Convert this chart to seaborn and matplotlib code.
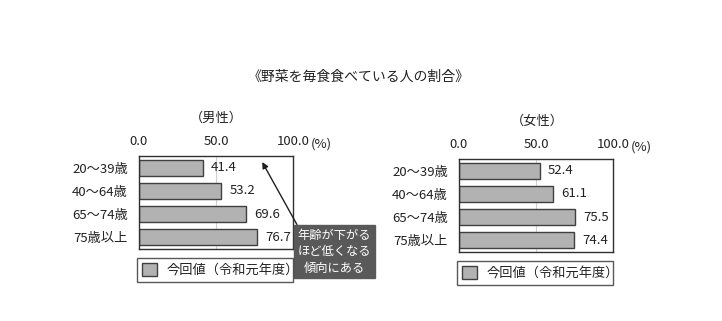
import matplotlib
matplotlib.use("Agg")
import matplotlib.pyplot as plt
import seaborn as sns
import pandas as pd
from matplotlib.patches import Patch

sns.set_theme(style="white")
plt.rcParams['font.family'] = ['Noto Sans CJK JP', 'DejaVu Sans']

categories = ["20～39歳", "40～64歳", "65～74歳", "75歳以上"]
male = [41.4, 53.2, 69.6, 76.7]
female = [52.4, 61.1, 75.5, 74.4]
ticks = [0, 50, 100]
tick_labels = ["0.0", "50.0", "100.0"]
title = "《野菜を毎食食べている人の割合》"
legend_label = "今回値（令和元年度）"
note = "年齢が下がる\nほど低くなる\n傾向にある"

W, H = 722, 321
fig = plt.figure(figsize=(W / 100, H / 100), dpi=100)

bar_color = "#b2b2b2"
edge_color = "#404040"
text_color = "#222222"
fs = 9.5

def px_axes(left, top, right, bottom):
    return fig.add_axes([left / W, 1 - bottom / H, (right - left) / W, (bottom - top) / H])

def draw(ax, values, sub, sub_x, sub_y):
    df = pd.DataFrame({"cat": categories, "val": values})
    sns.barplot(data=df, x="val", y="cat", ax=ax, color=bar_color, edgecolor=edge_color,
                linewidth=1.0, width=0.68, saturation=1)
    ax.set_xlim(0, 100)
    ax.set_xlabel("")
    ax.set_ylabel("")
    ax.xaxis.tick_top()
    ax.set_xticks(ticks)
    ax.set_xticklabels(tick_labels, fontsize=fs, color=text_color)
    ax.tick_params(axis="x", length=0, pad=6)
    ax.tick_params(axis="y", length=0, pad=8, labelsize=fs, labelcolor=text_color)
    ax.axvline(50, color="#d0d0d0", lw=0.8, zorder=0)
    for s in ax.spines.values():
        s.set_visible(True)
        s.set_color("#303030")
        s.set_linewidth(1.0)
    for c in ax.containers:
        ax.bar_label(c, labels=[f"{v:.1f}" for v in values], padding=6, fontsize=fs, color=text_color)
    ax.annotate("(%)", xy=(1.0, 1.0), xycoords="axes fraction", xytext=(13, 6),
                textcoords="offset points", ha="left", va="baseline",
                fontsize=fs, color=text_color, annotation_clip=False)
    fig.text(sub_x / W, 1 - sub_y / H, sub, ha="center", va="center", fontsize=fs, color=text_color)
    handle = Patch(facecolor=bar_color, edgecolor=edge_color, linewidth=1.0)
    leg = ax.legend([handle], [legend_label], loc="upper left",
                    bbox_to_anchor=(-0.013, -0.1, 1.013, 0), mode="expand",
                    fancybox=False, frameon=True, fontsize=fs, handlelength=1.2,
                    handleheight=1.2, borderpad=0.35, handletextpad=0.7, borderaxespad=0)
    leg.get_frame().set_edgecolor("#303030")
    leg.get_frame().set_linewidth(1.0)
    for t in leg.get_texts():
        t.set_color(text_color)

ax1 = px_axes(139, 156, 293, 249)
draw(ax1, male, "（男性）", 216, 118)
ax2 = px_axes(459, 159, 613, 252)
draw(ax2, female, "（女性）", 537, 121)

fig.text(359 / W, 1 - 77 / H, title, ha="center", va="center", fontsize=10, color=text_color)

ax1.annotate(note, xy=(0.80, 0.935), xycoords="axes fraction",
             xytext=(1.27, -0.03), textcoords="axes fraction",
             ha="center", va="center", fontsize=8.8, color="white", linespacing=1.35,
             bbox=dict(boxstyle="square,pad=0.3", facecolor="#595959", edgecolor="#595959"),
             arrowprops=dict(arrowstyle="-|>", color="#202020", lw=1.0, relpos=(0.02, 1.0),
                             mutation_scale=9, shrinkA=0, shrinkB=0),
             annotation_clip=False)

fig.savefig("out.png", dpi=100)
